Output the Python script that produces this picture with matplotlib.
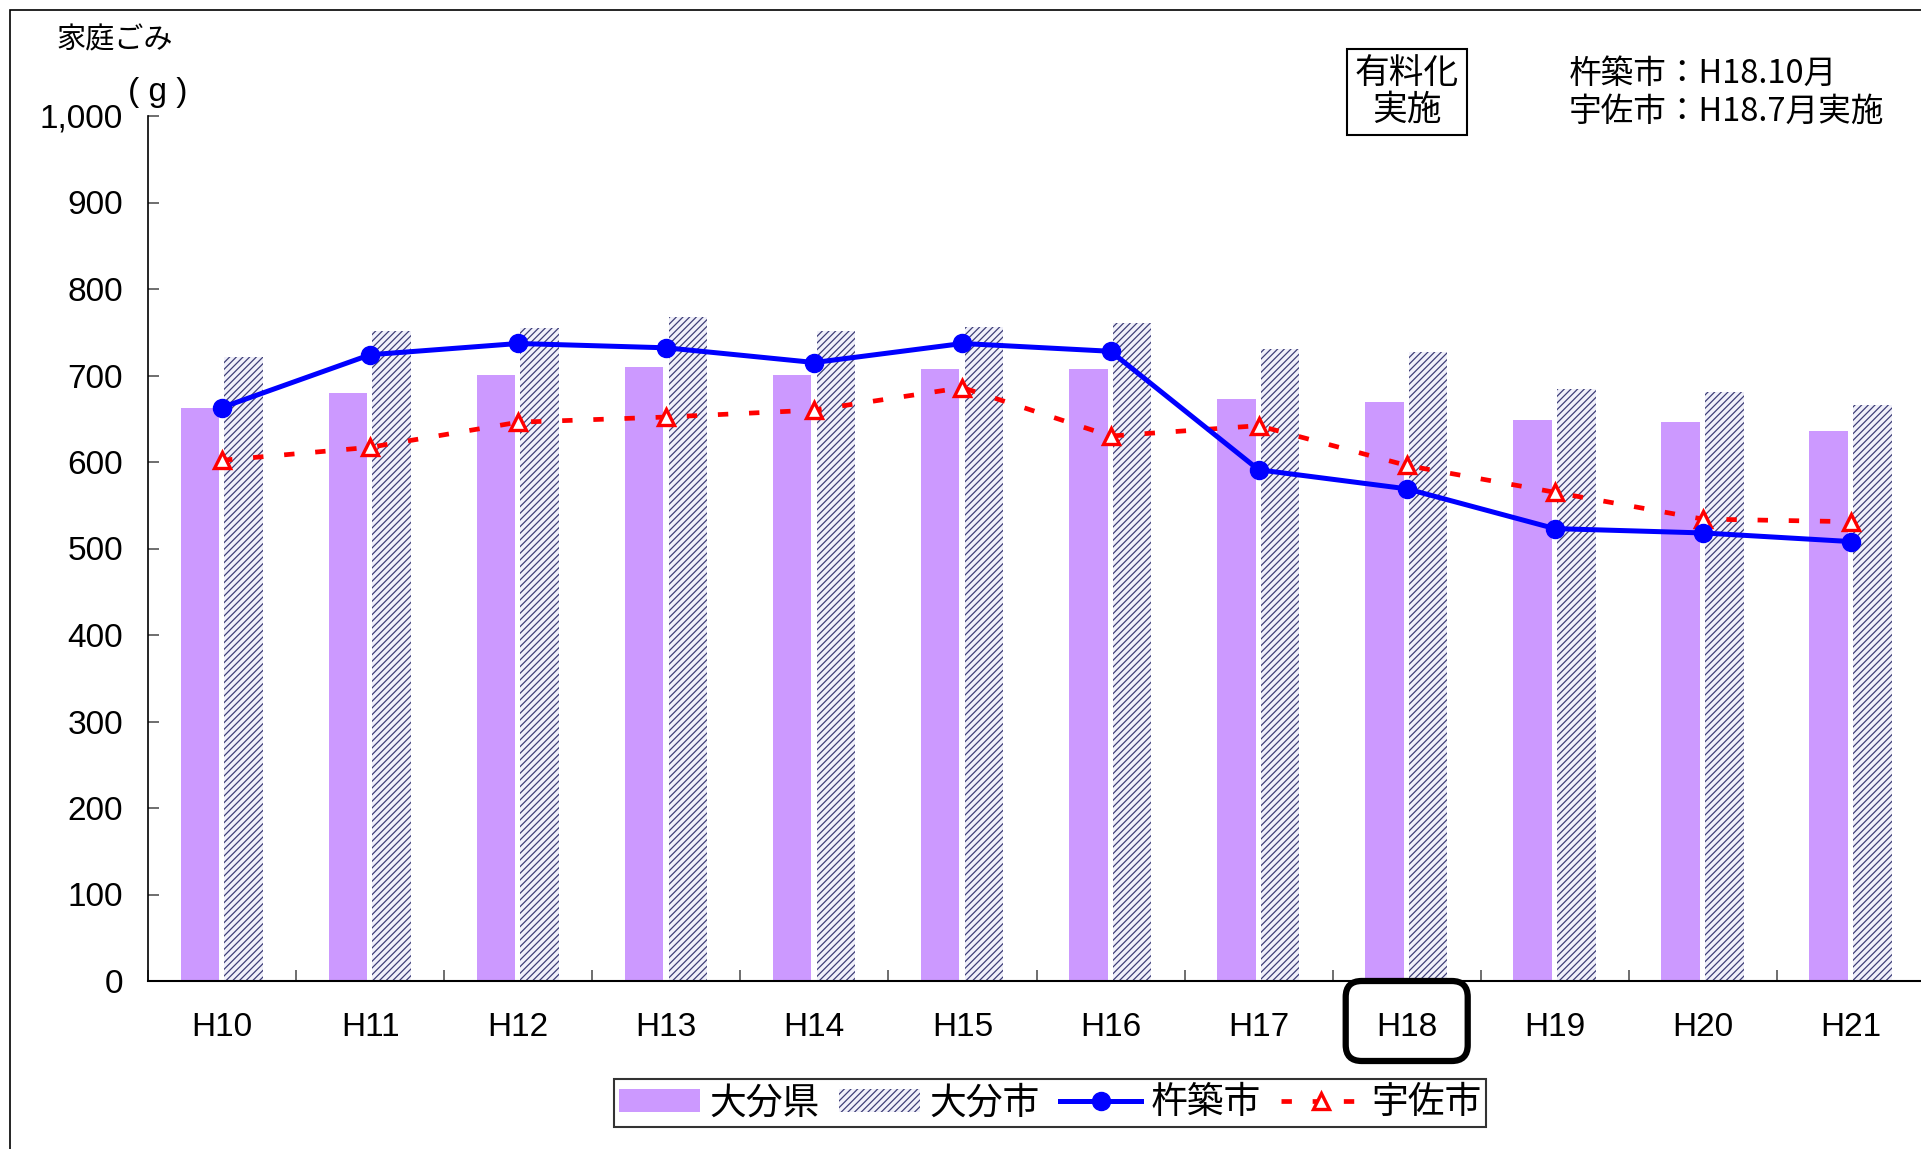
import numpy as np
import matplotlib
matplotlib.use("Agg")
import matplotlib.pyplot as plt
from matplotlib.patches import FancyBboxPatch, Rectangle, Patch
from matplotlib.lines import Line2D
from matplotlib.ticker import FuncFormatter

years = ["H10", "H11", "H12", "H13", "H14", "H15", "H16", "H17", "H18", "H19", "H20", "H21"]
oita_pref = [663, 680, 701, 710, 701, 707, 707, 673, 669, 649, 646, 636]
oita_city = [721, 751, 755, 768, 751, 756, 761, 731, 727, 684, 681, 666]
kitsuki = [663, 724, 737, 732, 715, 737, 728, 591, 569, 523, 518, 508]
usa = [602, 617, 646, 652, 660, 686, 630, 642, 596, 565, 534, 531]

plt.rcParams['font.family'] = ['Liberation Sans', 'Noto Sans CJK JP', 'DejaVu Sans']
plt.rcParams['hatch.linewidth'] = 0.9
jp = ['Noto Sans CJK JP', 'DejaVu Sans']

W, H = 1921, 1149
fig = plt.figure(figsize=(W / 100, H / 100), dpi=100)
ax = fig.add_axes([148 / W, 1 - 981 / H, 1777 / W, 865 / H])

x = np.arange(len(years))
ax.bar(x - 0.15, oita_pref, width=0.26, color='#cc99ff', edgecolor='none', zorder=2)
ax.bar(x + 0.145, oita_city, width=0.26, color='#f0f0fa', edgecolor='#3e3e78',
       hatch='/////', linewidth=0, zorder=2)
ax.plot(x, kitsuki, color='#0000ff', lw=3.6, marker='o', ms=13, zorder=4)
ax.plot(x, usa, color='#ff0000', lw=3.4, dashes=(2.2, 4.4), marker='^', ms=12,
        mfc='white', mec='#ff0000', mew=2.4, zorder=3)

ax.set_xlim(-0.5, 11.5)
ax.set_ylim(0, 1000)
ax.set_yticks(range(0, 1001, 100))
ax.yaxis.set_major_formatter(FuncFormatter(lambda v, p: f"{int(v):,}"))
ax.set_xticks(x)
ax.set_xticklabels(years)
ax.set_xticks(np.arange(-0.5, 12, 1), minor=True)
ax.tick_params(axis='x', which='major', length=0, pad=22, labelsize=24)
ax.tick_params(axis='x', which='minor', direction='in', length=8, width=1.2, color='#555555')
ax.tick_params(axis='y', direction='in', length=8, width=1.2, color='#555555', pad=18, labelsize=24)
for s in ['top', 'right']:
    ax.spines[s].set_visible(False)
ax.spines['bottom'].set_linewidth(1.5)
ax.spines['left'].set_linewidth(1.2)

# texts
fig.text(115 / W, 1 - 40 / H, "家庭ごみ", fontsize=21, ha='center', va='center', family=jp)
fig.text(158 / W, 1 - 93 / H, "( g )", fontsize=24, ha='center', va='center')
fig.text(1407 / W, 1 - 92 / H, "有料化\n実施", fontsize=25, ha='center', va='center',
         family=jp, linespacing=1.05,
         bbox=dict(boxstyle='square,pad=0.22', fc='white', ec='black', lw=1.5))
fig.text(1569 / W, 1 - 93 / H, "杵築市：H18.10月\n宇佐市：H18.7月実施", fontsize=23.5,
         ha='left', va='center', family=jp, linespacing=1.25)

# rounded box around H18
fig.canvas.draw()
xc, y0 = ax.transData.transform((8, 0))
box = FancyBboxPatch((xc - 61, y0 - 80), 122, 80, boxstyle='round,pad=0,rounding_size=16',
                     transform=None, fc='none', ec='black', lw=4.5, zorder=10)
fig.patches.append(box)

# outer frame
fig.patches.append(Rectangle((10 / W, -0.05), 1.2, 1 - 10 / H + 0.05, transform=fig.transFigure,
                             fill=False, ec='black', lw=1.2))

handles = [
    Patch(fc='#cc99ff', ec='none'),
    Patch(fc='#f0f0fa', ec='#3e3e78', hatch='/////', lw=0),
    Line2D([], [], color='#0000ff', lw=3.6, marker='o', ms=13),
    Line2D([], [], color='#ff0000', lw=3.4, dashes=(2.2, 4.4), marker='^', ms=12,
           mfc='white', mec='#ff0000', mew=2.4),
]
leg = fig.legend(handles, ["大分県", "大分市", "杵築市", "宇佐市"], loc='center',
                 bbox_to_anchor=(1050 / W, 1 - 1103 / H), ncol=4, frameon=True,
                 fancybox=False, prop={'family': jp, 'size': 26.5}, handlelength=2.2,
                 handleheight=0.6, handletextpad=0.25, columnspacing=0.55,
                 borderpad=0.12, edgecolor='black', borderaxespad=0)
leg.get_frame().set_linewidth(1.5)

fig.savefig("out.png", dpi=100)
